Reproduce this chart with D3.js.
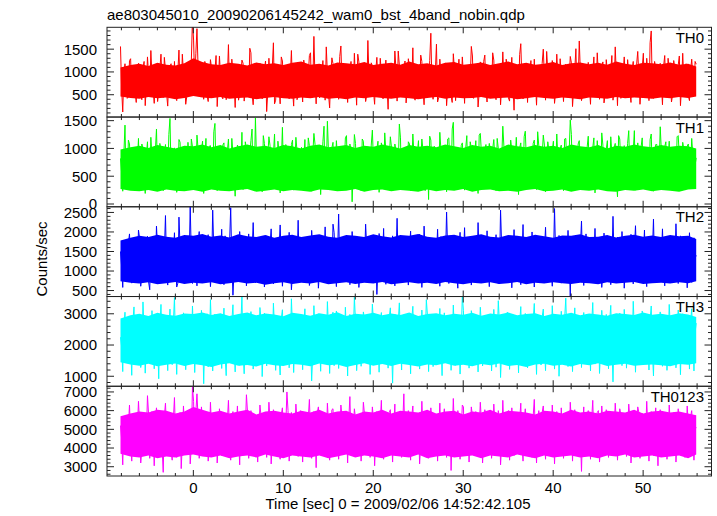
<!DOCTYPE html>
<html>
<head>
<meta charset="utf-8">
<script src="https://cdn.jsdelivr.net/npm/d3@7"></script>
<style>
  body { margin: 0; background: #fff; }
  svg { display: block; }
  text { font-family: "Liberation Sans", Arial, sans-serif; fill: #000; }
</style>
</head>
<body>
<svg id="chart" width="717" height="516"></svg>
<script>
// ---------------- DATA ----------------
const title = "ae803045010_20090206145242_wam0_bst_4band_nobin.qdp";
const xLabel = "Time [sec] 0 = 2009/02/06 14:52:42.105";
const yLabel = "Counts/sec";
const panelNames = ["TH0", "TH1", "TH2", "TH3", "TH0123"];
const panelColors = ["#ff0000", "#00ff00", "#0000ff", "#00ffff", "#ff00ff"];
const timeStart = -8.1;   // first bin (sec)
const timeStep = 0.125;   // bin width (sec)
const xTicks = [0, 10, 20, 30, 40, 50];

// light-curve samples (counts/sec). "A" arrays: even bins, "B" arrays: odd bins.
const th0A = [
1560,120,1180,420,1250,510,1010,330,1190,470,1080,260,1330,500,920,310,
1140,560,1390,440,1050,250,1120,480,1230,370,1480,430,960,290,1170,520,
2150,760,1950,540,1200,400,1090,350,1270,490,1030,240,1350,470,1110,390,
1600,450,980,220,1160,530,1260,360,1040,480,1420,280,990,510,1190,410,
1070,130,1300,460,1640,380,1020,300,1240,500,940,410,1470,250,1130,480,
1210,340,1000,520,1360,430,1780,300,1100,470,1250,380,960,210,1310,540,
1060,400,1570,490,1170,330,950,510,1410,270,1220,450,1030,350,1690,500,
1120,290,1320,530,990,420,1260,180,1080,480,1460,360,1150,510,930,320,
1290,440,1530,380,1040,520,1230,280,1110,490,1850,400,1000,340,1280,500,
1180,260,1070,460,1400,370,960,510,1330,310,1100,530,1560,420,1020,230,
1220,480,1370,340,1060,520,1260,390,970,280,1440,500,1140,360,1320,160,
1090,510,1620,410,1190,330,990,530,1280,270,1110,450,1500,380,1030,490,
1250,310,1390,480,950,350,1170,520,1340,240,1060,430,1680,370,1130,500,
1210,290,1010,470,1420,400,1110,320,1270,530,1020,380,1550,260,1160,490,
1330,440,970,330,1230,510,1450,290,1090,460,1300,370,1900,420,1050,520,
1190,280,1360,480,1000,340,1250,530,1150,260,1410,450,1070,370,1280,500,
1170];
const th0B = [
640,980,870,450,1290,730,560,1100,810,390,1230,690,920,1470,600,840,
350,1060,760,1320,520,890,1180,430,710,1010,580,1390,830,470,950,1250,
1700,1400,1100,660,920,1230,480,790,1080,560,1360,700,900,410,1150,830,
600,1280,740,1010,380,870,1190,650,930,1520,510,780,1080,440,970,720,
1240,560,850,1100,300,960,680,1330,790,460,1050,880,620,1170,390,1000,
740,1260,580,910,1420,670,830,1120,430,1000,760,1550,520,890,1180,650,
960,1340,720,450,1080,860,1230,560,800,1390,640,950,1110,480,870,1200,
570,1020,780,1300,420,930,680,1180,840,530,1060,1460,710,880,1240,600,
1050,750,460,1120,890,1370,620,980,520,1250,700,1080,1610,440,930,780,
1190,640,870,330,1040,760,1280,590,940,1130,470,820,1350,700,1010,550,
880,1230,600,1000,750,1420,520,910,1160,680,840,1280,430,970,720,1090,
650,1380,800,540,1110,920,1250,610,780,1030,480,1190,870,1450,690,950,
1120,560,890,1290,720,1040,450,830,1200,640,1510,760,990,520,1170,850,
700,1080,1330,590,920,770,1220,490,1010,860,1360,620,900,1140,420,980,
810,1270,540,1060,730,1160,890,630,1410,720,980,1640,570,1230,840,1000,
760,1120,600,1300,870,500,1060,940,1350,690,820,1180,470,1020,910,1230];

const th1A = [
820,230,1420,320,1080,410,930,270,1180,380,990,190,1120,440,870,290,
1350,360,950,240,1070,450,1540,310,1010,210,1160,400,900,300,1110,350,
1030,270,1240,420,970,190,1180,380,1050,320,1450,240,940,440,1100,280,
1170,350,910,140,1060,410,1290,290,990,450,1140,260,1550,340,960,220,
1090,400,1210,300,890,430,1130,200,1380,330,1000,420,1070,250,1200,370,
940,290,1160,440,1050,230,1270,390,970,170,1120,340,1490,280,1010,420,
1140,260,980,380,1190,320,1080,40,1250,430,930,240,1130,360,1030,300,
1330,400,1000,210,1100,450,950,330,1210,260,1080,410,1440,290,970,350,
1120,240,1260,380,920,310,1170,430,1040,80,1150,350,990,270,1290,410,
1030,220,1190,370,1470,300,960,420,1100,250,1230,340,1010,450,1140,190,
1270,390,940,290,1090,430,1160,240,1000,360,1400,280,1060,410,970,320,
1200,170,1100,380,1310,310,990,440,1150,260,1050,350,1240,220,1120,420,
960,290,1260,370,1060,240,1180,430,1510,330,1020,270,1140,400,930,300,
1220,360,1010,200,1140,440,1280,280,990,380,1210,320,1090,130,1170,410,
1050,310,1320,370,950,250,1100,450,1190,290,1010,400,1260,230,1070,340,
1390,270,1030,430,1130,320,980,380,1230,240,1110,360,1040,290,1180,400,
830];
const th1B = [
560,900,330,1150,640,480,1020,750,290,1080,610,870,420,1200,700,950,
510,1090,680,830,300,1250,560,920,740,380,1110,620,1000,450,820,1170,
700,430,990,590,1130,800,360,1040,670,1300,520,880,720,1060,410,940,
630,1180,480,810,1010,560,260,1120,700,900,1350,450,780,1000,600,1230,
470,860,1050,640,1260,380,930,710,540,1070,820,320,1150,680,950,560,
1020,740,450,1190,610,880,1080,330,820,650,1400,540,930,760,1110,480,
850,1010,590,700,1230,410,960,620,1090,780,360,1170,680,890,520,1060,
740,470,1130,640,910,1280,550,800,1020,380,970,690,1190,600,850,430,
1080,660,900,520,1140,760,980,240,870,1220,590,1040,720,440,960,810,
560,1170,700,1350,480,890,620,1050,790,1000,400,1120,680,930,580,1240,
900,600,1070,730,450,990,820,1180,540,760,1030,370,880,1150,640,820,
690,1010,480,1210,770,920,560,1090,400,1300,650,850,1060,520,970,740,
1130,580,840,1000,460,1170,720,930,1250,610,790,1080,430,890,660,1020,
520,960,1190,690,830,370,1060,750,1140,580,920,1010,450,1230,700,870,
780,1090,560,940,1320,620,850,1030,410,980,720,1160,550,900,1070,640,
950,600,1120,790,430,1020,680,1210,840,520,990,730,1080,620,890,700];

const th2A = [
1500,580,1780,820,1950,690,1660,900,2050,610,1720,840,1890,520,1630,760,
2150,700,1810,930,2420,640,1700,870,1980,590,2380,780,1620,950,1900,2650,
680,1850,620,2010,890,1680,720,1930,600,2560,830,1760,960,2070,650,1710,
880,2620,380,1840,760,2010,920,1690,620,1950,810,2240,700,1780,980,1620,
590,1900,850,2080,670,1730,940,2180,610,1820,780,1990,520,1670,890,2300,
740,1860,960,1640,630,2040,800,1750,560,1920,910,2130,690,1710,850,1980,
600,2460,770,1800,940,1660,650,2010,830,1880,580,1740,970,2200,710,1830,
890,1650,400,1960,800,2090,660,1770,930,1900,620,2350,760,1690,980,1850,
640,2020,870,1730,700,1940,580,2150,920,1800,750,1660,990,2070,610,1760,
850,2510,680,1840,950,1700,560,1990,790,2110,900,1750,640,1880,820,2240,
720,1670,960,2030,600,1820,870,1930,680,2560,810,1720,940,1860,570,2060,
780,1780,650,2190,900,1700,730,2000,590,1850,980,1640,700,2120,860,1790,
610,2600,820,1910,690,1760,950,2040,360,1830,880,1680,760,2280,630,1950,
930,1720,710,2090,840,1800,580,1970,970,1660,650,2400,800,1870,720,2010,
560,1750,910,1940,670,2160,830,1690,990,2050,600,1810,880,2330,740,1770,
960,2080,620,1860,790,1700,930,2210,680,1900,840,1640,570,1980,710,1850,
1400];
const th2B = [
1120,1450,980,1700,1260,800,1520,1090,1830,940,1380,1180,720,1610,1250,1040,
1560,1200,860,1480,1090,1750,960,1330,1150,690,1620,1280,1010,1870,1190,1400,
1300,1150,1620,900,1430,1070,1790,1240,1000,1530,1350,780,1460,1180,1900,1050,
1710,1250,980,1540,1120,1380,860,1640,1210,1010,1490,1330,760,1580,1150,1300,
1260,1010,1680,1190,1450,880,1590,1310,1060,1830,1140,1370,950,1500,1220,1060,
1340,1080,1520,1250,830,1610,1170,1410,990,1740,1280,1050,1460,1190,2200,1120,
1400,1150,1290,1020,1560,1360,890,1480,1210,1700,1070,1350,1250,1580,940,1430,
1190,1520,1060,1680,1290,980,1440,1210,1620,1080,1380,1170,1550,870,1460,1240,
1550,1170,1320,950,1610,1240,1090,1490,1300,820,1720,1150,1410,1230,1880,1050,
1280,1460,1100,1390,1230,900,1570,1180,1420,1020,1660,1260,1130,1510,980,1350,
1200,1540,1060,1320,1800,1140,1460,1280,950,1620,1190,1390,1070,1530,1250,1110,
1480,1210,1360,1000,1590,1270,1120,1440,1850,1160,1330,920,1500,1220,1380,1050,
1240,1390,1130,1650,1020,1480,1250,1330,1560,980,1410,1200,1620,1090,1360,1280,
1530,1070,1420,1190,1690,1310,960,1470,1140,1580,1230,1350,1010,1740,1180,1400,
1100,1460,1270,1040,1520,1300,1620,1150,1390,880,1570,1240,1440,1080,1690,1210,
1370,1150,1500,1230,1040,1590,1280,1420,1110,1650,1190,1360,1250,1480,1020,1330];

const th3A = [
2250,1150,3050,1420,2780,1030,3220,1510,2900,1280,3380,1100,2850,1560,3100,1240,
2960,920,3300,1450,2720,1180,3150,1370,3520,1060,2880,1490,3030,1210,2800,1580,
3250,1120,2940,1400,3110,760,2830,1300,3450,1170,2990,1530,2760,1250,3180,1020,
2870,1460,3290,1140,2950,1350,3560,1080,2820,1500,3070,1230,2730,1410,3200,990,
3020,1330,2790,1570,3340,1190,2910,1040,3130,1440,2860,1270,3480,1120,2970,1520,
2750,1210,3160,1380,2890,850,3260,1480,3000,1160,2810,1550,3390,1090,2940,1340,
3090,1250,2770,1430,3210,1010,2980,1590,3530,1180,2840,1320,3060,1470,2920,1060,
3310,1370,2880,1130,3040,1500,2740,1260,3190,780,2990,1420,3350,1200,2830,1540,
2960,1080,3240,1390,2800,1230,3120,1560,3450,1150,2900,1310,2770,1480,3170,1020,
3030,1440,2860,1190,3280,1350,2930,1070,3580,1500,2790,1260,3100,1400,2850,1140,
3210,1330,2950,1580,2720,1170,3140,1290,3420,960,2880,1460,3050,1220,2990,1380,
2810,1110,3230,1490,3010,1270,2780,1540,3330,1060,2920,1360,3150,1180,2870,1450,
3260,1230,2900,1000,3080,1520,3500,1310,2840,1150,3190,1410,2760,1280,3040,1570,
2930,1170,3360,1390,2820,1090,3110,1470,2980,1240,3270,820,2870,1530,3020,1340,
3140,1260,2790,1440,3400,1130,2960,1360,3090,1550,2830,1200,3250,1010,2910,1480,
3060,1320,2850,1190,3300,1430,2740,1270,3120,1050,3000,1500,2880,1230,3160,1170,
2700];
const th3B = [
1950,2600,1720,2400,2050,2750,1800,2300,2550,1650,2450,2100,2900,1850,2350,2650,
2100,2500,1780,2850,2200,2400,1600,2700,2000,2300,2950,1900,2450,2150,2650,1750,
2350,2050,2800,1700,2500,2250,3000,1850,2400,2150,2700,1950,2550,2300,1650,2600,
2200,2750,1900,2450,2100,2650,1750,2350,2900,2050,2500,1800,2600,2250,2800,1950,
2450,2150,2700,1850,2550,2300,1650,2850,2100,2400,2950,1900,2500,2200,2650,1800,
2300,2600,2000,2750,2200,1700,2450,2900,2050,2350,2650,1850,2550,2150,3050,1950,
2500,2100,2800,1900,2400,2650,2000,2300,2750,1750,2600,2250,2850,2050,2450,2200,
2700,1950,2350,2600,1800,2500,2200,2900,2050,2400,1650,2750,2150,2550,1900,2450,
2250,2800,2000,2450,2650,1850,2350,2100,2950,2200,2550,1750,2700,2300,2050,2600,
1950,2500,2750,2150,2400,1800,2650,2250,3100,2000,2450,2200,2800,1900,2550,2350,
2600,2050,2450,2300,2850,1950,2550,2150,2700,1850,2400,2250,2950,2000,2500,2100,
2350,2700,1900,2600,2200,2450,1750,2800,2100,2550,2300,2900,1950,2400,2650,2050,
2500,2150,2750,2000,2400,2850,2250,1800,2600,2350,2050,2700,2200,2500,1900,2800,
2300,2650,2050,2450,2950,1850,2550,2200,2400,2750,2000,2350,2600,2100,2850,1950,
2450,2250,2700,1900,2500,2350,2900,2050,2600,2150,2450,2800,1800,2550,2300,2650,
2100,2400,2750,2000,2550,2250,2850,1950,2450,2300,2650,2050,2500,2750,2150,2400];

const th0123A = [
5200,3100,5700,3650,6300,3300,5850,3900,6500,3200,5600,3750,6800,3450,5950,3050,
6150,3600,5550,2700,6400,3800,5900,3350,6700,3500,5750,2900,6250,3700,5650,3150,
7300,3900,6900,3450,6200,3750,5800,3300,6450,3950,5900,3200,6100,3600,5700,3850,
6550,3350,5950,3700,6250,3100,5800,3900,6850,3450,6000,3650,5650,3250,6300,3800,
5850,3500,6450,3150,6050,3850,5700,3400,6150,3700,7000,3300,5900,3950,6350,3550,
6000,3250,5750,3800,6600,3450,5950,2950,6200,3650,5800,3900,6400,3350,6050,3700,
5650,3400,6300,3850,5900,3200,6750,3600,6100,3950,5750,3300,6450,3700,5850,3500,
6200,3050,5950,3750,6550,3400,5800,3900,6050,3250,6350,3650,5700,3500,6900,3800,
6000,3350,6250,3700,5850,3150,6500,3950,5950,3450,6150,3600,5750,3300,6400,3850,
6100,3500,5900,2800,6650,3750,6000,3400,6300,3900,5800,3250,6200,3650,5950,3550,
6450,3200,6050,3800,5700,3450,6350,3700,6000,3100,6550,3900,5850,3350,6150,3600,
5900,3750,6400,3300,6100,3950,5750,3500,6600,3200,6000,3850,6250,3400,5800,3650,
6300,3150,5950,3700,6150,3450,5850,3900,6450,3300,6050,3600,5700,2750,6200,3800,
6000,3400,6550,3750,5900,3250,6250,3950,6050,3500,5800,3650,6400,3350,6100,3850,
5750,3550,6350,3200,6000,3900,6200,3450,5850,3700,6500,3300,5950,3600,6150,3050,
6050,3750,5800,3400,6300,3950,5900,3250,6100,3650,5850,3500,6250,3800,6000,3350,
5100];
const th0123B = [
4500,5400,4100,5100,4700,5600,4300,5000,5300,3900,5200,4600,5800,4200,5000,5500,
4400,5300,4000,5700,4800,5200,3800,5500,4500,5000,5900,4300,5100,4700,5400,4100,
6500,5900,5600,4200,5300,4900,5800,4400,5100,4700,5500,4300,5200,4900,3900,5400,
4800,5600,4300,5100,4600,5500,4100,5000,5900,4500,5300,4200,5400,4900,5700,4400,
5100,4700,5500,4200,5300,5000,3900,5800,4600,5200,6000,4300,5200,4800,5500,4100,
4900,5400,4500,5600,4800,4000,5100,5900,4600,5000,5500,4300,5300,4700,6100,4400,
5200,4600,5700,4300,5000,5500,4500,4900,5600,4100,5400,4800,5800,4500,5100,4800,
5500,4400,5000,5400,4200,5200,4800,5900,4600,5100,3900,5600,4700,5300,4300,5100,
4800,5700,4500,5100,5500,4200,5000,4600,6000,4800,5300,4100,5500,5000,4500,5400,
4300,5200,5600,4700,5000,4100,5400,4800,6200,4400,5100,4800,5700,4200,5300,5000,
5400,4500,5100,4900,5800,4300,5300,4700,5600,4200,5000,4800,6000,4400,5200,4600,
5000,5500,4200,5400,4800,5100,4000,5700,4600,5300,4900,5900,4300,5000,5500,4500,
5200,4700,5600,4400,5000,5800,4800,4100,5400,5000,4500,5600,4700,5200,4200,5700,
4900,5500,4500,5100,6000,4200,5300,4800,5000,5600,4400,5000,5400,4600,5800,4300,
5100,4800,5600,4200,5200,5000,5900,4500,5400,4700,5100,5700,4100,5300,4900,5500,
4600,5000,5600,4400,5300,4800,5800,4300,5100,4900,5500,4500,5200,5700,4700,5000];

// dense-core band (region the unresolved samples fill solidly), read once per second
const coreTimes = [-8.1].concat(d3.range(-7, 56, 1), [55.9]);
const th0CoreHi = [
1100,1150,1180,1130,1200,1160,1140,1190,1300,1220,1170,1150,1200,1180,1140,1210,1170,1190,1150,1200,
1230,1160,1180,1140,1210,1190,1170,1220,1150,1180,1200,1160,1230,1170,1190,1140,1200,1220,1160,1180,
1210,1150,1190,1230,1170,1200,1160,1180,1220,1150,1190,1210,1170,1200,1160,1230,1180,1150,1200,1190,
1170,1210,1160,1180,1120];
const th0CoreLo = [
460,430,410,450,420,440,400,430,470,440,420,450,410,430,440,400,430,450,420,410,
440,420,450,410,430,400,440,420,450,430,410,440,420,400,430,450,410,440,420,430,
450,410,430,440,400,420,450,430,410,440,420,400,440,430,410,450,420,440,430,410,
440,420,450,430,460];
const th1CoreHi = [
980,1020,1050,1010,1060,1030,1000,1050,1040,1070,1020,1060,1000,1040,1070,1030,1050,1010,1060,1040,
1000,1050,1070,1020,1040,1060,1010,1050,1030,1070,1040,1000,1060,1030,1050,1020,1070,1040,1010,1060,
1030,1050,1000,1070,1040,1020,1060,1030,1050,1010,1070,1040,1020,1060,1000,1050,1030,1070,1040,1020,
1060,1030,1050,1040,1000];
const th1CoreLo = [
270,240,230,250,220,260,240,230,250,220,260,240,230,250,270,220,240,260,230,250,
240,220,260,250,230,240,270,220,250,260,230,250,240,220,260,230,250,240,270,220,
250,260,230,240,220,250,270,230,240,260,220,250,240,260,230,220,250,240,260,230,
250,240,220,260,270];
const th2CoreHi = [
1780,1850,1900,1870,1930,1880,1850,1920,1900,1950,1880,1910,1860,1940,1890,1870,1920,1850,1900,1930,
1870,1910,1940,1880,1850,1920,1900,1870,1940,1890,1860,1920,1900,1950,1880,1850,1910,1930,1870,1900,
1940,1880,1860,1920,1900,1870,1930,1890,1850,1910,1900,1940,1870,1880,1920,1860,1900,1930,1880,1910,
1870,1920,1890,1900,1820];
const th2CoreLo = [
740,700,680,710,660,690,720,670,700,680,710,660,690,720,680,700,650,690,710,670,
700,680,720,660,690,710,670,700,680,720,660,690,710,680,700,670,720,690,660,700,
680,710,670,690,720,660,700,680,710,690,670,700,690,660,710,680,700,720,670,690,
700,680,710,690,740];
const th3CoreHi = [
2850,2950,3000,2930,3030,2970,2940,3010,2990,3040,2960,3020,2930,2990,3040,2950,3010,2980,2920,3030,
2990,2940,3020,2970,3050,2930,3000,2980,3030,2950,3010,2960,3040,2930,2990,3020,2950,3000,2970,3030,
2940,3010,2980,3040,2950,2990,3020,2930,3000,2970,3030,2950,3010,2980,2940,3020,2990,2960,3040,2970,
3000,2950,3020,2980,2900];
const th3CoreLo = [
1450,1380,1340,1400,1320,1370,1410,1330,1390,1350,1300,1380,1420,1340,1360,1310,1400,1350,1330,1390,
1370,1320,1410,1350,1380,1300,1360,1420,1340,1390,1330,1400,1360,1310,1380,1350,1420,1340,1370,1320,
1390,1350,1410,1330,1360,1300,1380,1400,1340,1370,1310,1390,1350,1420,1330,1370,1400,1340,1360,1380,
1350,1320,1390,1370,1420];
const th0123CoreHi = [
5700,5850,5950,5900,6050,6000,5850,5950,6200,6050,5900,6000,5850,5950,6050,5800,5950,6000,5900,5850,
6000,5900,6050,5850,5950,6000,5800,5950,5900,6050,5850,6000,5950,5900,6050,5850,5950,6000,5800,5950,
5900,6050,5850,6000,5950,5900,5800,6000,5950,5850,6050,5900,5950,5850,6000,5950,5900,6050,5850,5950,
6000,5900,5950,5850,5750];
const th0123CoreLo = [
3700,3550,3500,3600,3450,3550,3500,3600,3650,3550,3500,3600,3450,3550,3600,3500,3650,3550,3450,3600,
3550,3500,3600,3450,3550,3650,3500,3600,3550,3450,3600,3550,3500,3650,3450,3550,3600,3500,3550,3600,
3450,3600,3550,3500,3650,3550,3450,3600,3500,3550,3600,3500,3550,3450,3600,3550,3650,3500,3550,3600,
3500,3550,3600,3450,3650];

const seriesA = [th0A, th1A, th2A, th3A, th0123A];
const seriesB = [th0B, th1B, th2B, th3B, th0123B];
const coreHis = [th0CoreHi, th1CoreHi, th2CoreHi, th3CoreHi, th0123CoreHi];
const coreLos = [th0CoreLo, th1CoreLo, th2CoreLo, th3CoreLo, th0123CoreLo];
const yDomains = [[10, 1980], [-50, 1565], [347, 2645], [680, 3553], [2504, 7304]];
const yMajorTicks = [
  [500, 1000, 1500],
  [0, 500, 1000, 1500],
  [500, 1000, 1500, 2000, 2500],
  [1000, 2000, 3000],
  [3000, 4000, 5000, 6000, 7000]
];
const yMinorSteps = [100, 100, 100, 200, 200];

// ---------------- LAYOUT ----------------
const plotL = 107, plotR = 711.5, plotT = 27.3, plotB = 476;
const nP = seriesA.length;
const pH = (plotB - plotT) / nP;

const svg = d3.select("#chart");
const x = d3.scaleLinear().domain([-9.6, 57.6]).range([plotL, plotR]);
const frameColor = "#222";

svg.append("text").attr("x", plotL).attr("y", 20).attr("font-size", 15).text(title);

seriesA.forEach((a, p) => {
  const b = seriesB[p];
  const vals = [];
  a.forEach((v, i) => { vals.push(v); if (i < b.length) vals.push(b[i]); });

  const y0 = plotT + p * pH, y1 = y0 + pH;
  const y = d3.scaleLinear().domain(yDomains[p]).range([y1, y0]);
  const g = svg.append("g");

  const clipId = "clip" + p;
  svg.append("clipPath").attr("id", clipId)
    .append("rect").attr("x", plotL).attr("y", y0).attr("width", plotR - plotL).attr("height", pH);

  const core = coreTimes.map((t, i) => ({ t, hi: coreHis[p][i], lo: coreLos[p][i] }));
  const area = d3.area().x(d => x(d.t)).y0(d => y(d.lo)).y1(d => y(d.hi));
  g.append("path").attr("d", area(core)).attr("clip-path", `url(#${clipId})`)
    .attr("fill", panelColors[p]).attr("stroke", "none");

  const pts = vals.map((v, i) => [timeStart + i * timeStep, v]);
  const line = d3.line().x(d => x(d[0])).y(d => y(d[1]));
  g.append("path").attr("d", line(pts))
    .attr("clip-path", `url(#${clipId})`)
    .attr("fill", "none").attr("stroke", panelColors[p])
    .attr("stroke-width", 1).attr("stroke-linejoin", "miter");

  g.append("rect").attr("x", plotL).attr("y", y0).attr("width", plotR - plotL).attr("height", pH)
    .attr("fill", "none").attr("stroke", frameColor).attr("stroke-width", 1);

  d3.range(-8, 57, 2).forEach(t => {
    const len = (t % 10 === 0) ? 6 : 3;
    const xx = x(t);
    g.append("line").attr("x1", xx).attr("x2", xx).attr("y1", y0).attr("y2", y0 + len)
      .attr("stroke", frameColor).attr("stroke-width", 1);
    g.append("line").attr("x1", xx).attr("x2", xx).attr("y1", y1).attr("y2", y1 - len)
      .attr("stroke", frameColor).attr("stroke-width", 1);
  });

  const [d0, d1] = yDomains[p];
  const step = yMinorSteps[p];
  d3.range(Math.ceil(d0 / step) * step, d1 + 0.001, step).forEach(v => {
    const len = yMajorTicks[p].includes(v) ? 7 : 3.5;
    const yy = y(v);
    g.append("line").attr("x1", plotL).attr("x2", plotL + len).attr("y1", yy).attr("y2", yy)
      .attr("stroke", frameColor).attr("stroke-width", 1);
    g.append("line").attr("x1", plotR).attr("x2", plotR - len).attr("y1", yy).attr("y2", yy)
      .attr("stroke", frameColor).attr("stroke-width", 1);
  });
  yMajorTicks[p].forEach(v => {
    g.append("text").attr("x", 97).attr("y", y(v)).attr("dy", "0.36em")
      .attr("text-anchor", "end").attr("font-size", 15).text(v);
  });

  g.append("text").attr("x", 704).attr("y", y0 + 15.5).attr("text-anchor", "end")
    .attr("font-size", 15).text(panelNames[p]);
});

xTicks.forEach(t => {
  svg.append("text").attr("x", x(t)).attr("y", 493).attr("text-anchor", "middle")
    .attr("font-size", 15).text(t);
});

svg.append("text").attr("x", 398).attr("y", 509).attr("text-anchor", "middle")
  .attr("font-size", 15).text(xLabel);

svg.append("text").attr("transform", "translate(47,259) rotate(-90)")
  .attr("text-anchor", "middle").attr("font-size", 15).text(yLabel);
</script>
</body>
</html>
